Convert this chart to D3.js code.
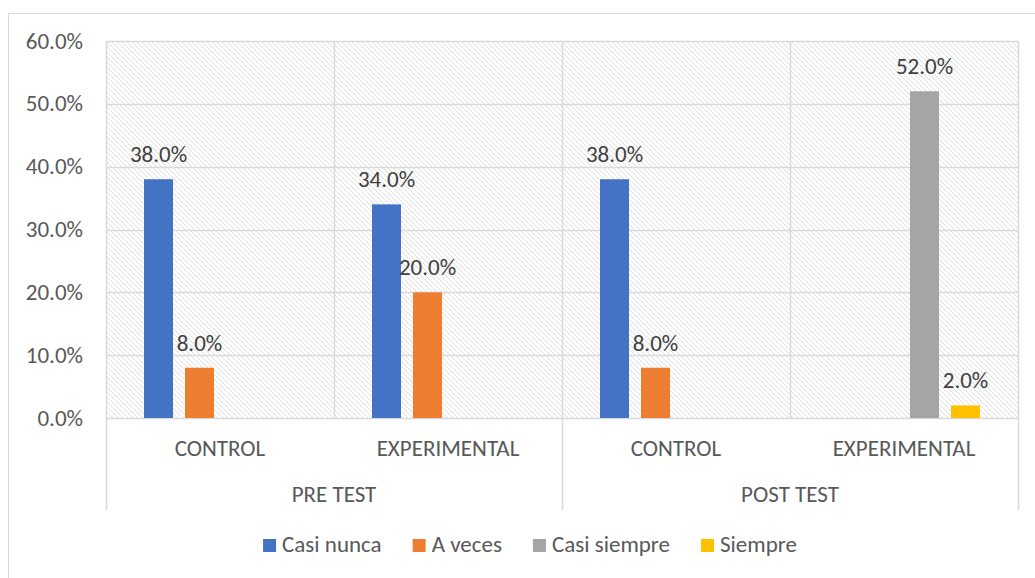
<!DOCTYPE html>
<html>
<head>
<meta charset="utf-8">
<script src="https://cdn.jsdelivr.net/npm/d3@7"></script>
<style>
  body { margin: 0; background: #fff; }
  text { font-family: Calibri, Carlito, Lato, "Open Sans", sans-serif; fill: #595959; }
</style>
</head>
<body>
<div id="chart"></div>
<script>
var width = 1035,
	height = 578;

// data
var groups = ["PRE TEST", "POST TEST"];
var subcats = ["CONTROL", "EXPERIMENTAL"];
var series = ["Casi nunca", "A veces", "Casi siempre", "Siempre"];
var colors = ["#4472C4", "#ED7D31", "#A5A5A5", "#FFC000"];
var casiNunca = [38, 34, 38, 0];
var aVeces = [8, 20, 8, 0];
var casiSiempre = [0, 0, 0, 52];
var siempre = [0, 0, 0, 2];
var yTicks = [0, 10, 20, 30, 40, 50, 60];

var values = [casiNunca, aVeces, casiSiempre, siempre];

var plot = { left: 106, right: 1018, top: 41, bottom: 418 };
var fs = 23;

var svg = d3.select("#chart").append("svg")
	.attr("width", width)
	.attr("height", height);

// outer chart border (cut by the window on right/bottom)
svg.append("rect")
	.attr("x", 8.5).attr("y", 13.5)
	.attr("width", 1040).attr("height", 600)
	.attr("fill", "#fff")
	.attr("stroke", "#d9d9d9");

// hatch pattern for plot background
var defs = svg.append("defs");
var pat = defs.append("pattern")
	.attr("id", "hatch")
	.attr("patternUnits", "userSpaceOnUse")
	.attr("width", 5).attr("height", 5);
pat.append("rect").attr("width", 5).attr("height", 5).attr("fill", "#fff");
pat.append("path")
	.attr("d", "M-1,-1 L6,6 M-1,4 L1,6 M4,-1 L6,1")
	.attr("stroke", "#dedede")
	.attr("stroke-width", 1);

// all leaf categories
var cats = [];
groups.forEach(function(g){
	subcats.forEach(function(s){ cats.push(g + "|" + s); });
});

var x0 = d3.scaleBand()
	.domain(cats)
	.range([plot.left, plot.right]);

var xg = d3.scaleBand()
	.domain(groups)
	.range([plot.left, plot.right]);

var x1 = d3.scaleBand()
	.domain(series)
	.range([38, x0.bandwidth() - 38])
	.paddingInner(0.2927);

var y = d3.scaleLinear()
	.domain([0, 60])
	.range([plot.bottom, plot.top]);

svg.append("rect")
	.attr("x", plot.left).attr("y", plot.top)
	.attr("width", plot.right - plot.left)
	.attr("height", plot.bottom - plot.top)
	.attr("fill", "url(#hatch)");

// horizontal gridlines
svg.append("g").selectAll("line")
	.data(yTicks)
	.enter().append("line")
	.attr("x1", plot.left).attr("x2", plot.right)
	.attr("y1", function(d){ return Math.round(y(d)) + 0.5; })
	.attr("y2", function(d){ return Math.round(y(d)) + 0.5; })
	.attr("stroke", "#d9d9d9")
	.attr("stroke-width", 1.5);

// vertical separators between categories
var bounds = cats.map(function(c){ return x0(c); }).concat([plot.right]);
svg.append("g").selectAll("line")
	.data(bounds)
	.enter().append("line")
	.attr("x1", function(d){ return Math.round(d) + 0.5; })
	.attr("x2", function(d){ return Math.round(d) + 0.5; })
	.attr("y1", plot.top)
	.attr("y2", function(d, i){ return i % 2 === 0 ? 510 : plot.bottom; })
	.attr("stroke", "#d9d9d9")
	.attr("stroke-width", 1.5);

// y tick labels
svg.append("g").selectAll("text")
	.data(yTicks)
	.enter().append("text")
	.attr("x", 83)
	.attr("y", function(d){ return y(d); })
	.attr("dy", "0.33em")
	.attr("text-anchor", "end")
	.attr("font-size", fs)
	.text(function(d){ return d.toFixed(1) + "%"; });

// bars
var barData = [];
cats.forEach(function(c, ci){
	series.forEach(function(s, si){
		barData.push({ cat: c, s: s, si: si, v: values[si][ci] });
	});
});

var bars = svg.append("g").selectAll("g")
	.data(barData.filter(function(d){ return d.v > 0; }))
	.enter().append("g");

bars.append("rect")
	.attr("x", function(d){ return x0(d.cat) + x1(d.s); })
	.attr("y", function(d){ return y(d.v); })
	.attr("width", x1.bandwidth())
	.attr("height", function(d){ return y(0) - y(d.v); })
	.attr("fill", function(d){ return colors[d.si]; });

bars.append("text")
	.attr("x", function(d){ return x0(d.cat) + x1(d.s) + x1.bandwidth() / 2; })
	.attr("y", function(d){ return y(d.v) - 17; })
	.attr("text-anchor", "middle")
	.attr("font-size", fs)
	.style("fill", "#404040")
	.text(function(d){ return d.v.toFixed(1) + "%"; });

// category labels
svg.append("g").selectAll("text")
	.data(cats)
	.enter().append("text")
	.attr("x", function(d){ return x0(d) + x0.bandwidth() / 2; })
	.attr("y", 456)
	.attr("text-anchor", "middle")
	.attr("font-size", fs)
	.text(function(d){ return d.split("|")[1]; });

svg.append("g").selectAll("text")
	.data(groups)
	.enter().append("text")
	.attr("x", function(d){ return xg(d) + xg.bandwidth() / 2; })
	.attr("y", 502)
	.attr("text-anchor", "middle")
	.attr("font-size", fs)
	.text(function(d){ return d; });

// legend
var legend = svg.append("g");
var items = legend.selectAll("g")
	.data(series)
	.enter().append("g");
items.append("rect")
	.attr("y", 539)
	.attr("width", 13).attr("height", 13)
	.attr("fill", function(d, i){ return colors[i]; });
items.append("text")
	.attr("x", 19)
	.attr("y", 552)
	.attr("font-size", fs)
	.text(function(d){ return d; });

var widths = [];
items.each(function(){ widths.push(this.getBBox().width); });
var gap = 31;
var total = d3.sum(widths) + gap * (widths.length - 1);
var lx = 530 - total / 2;
items.attr("transform", function(d, i){
	var t = "translate(" + lx + ",0)";
	lx += widths[i] + gap;
	return t;
});
</script>
</body>
</html>
